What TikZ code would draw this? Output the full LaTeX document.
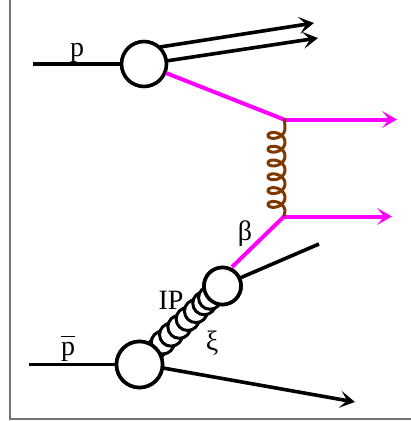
\documentclass[tikz,border=0pt]{standalone}
\usepackage{fontspec}
\setmainfont{Liberation Serif}
\usetikzlibrary{arrows.meta,calc}
\definecolor{mag}{RGB}{255,0,255}
\definecolor{glu}{RGB}{128,56,0}
\tikzset{
  blob/.style={circle,draw=black,fill=white,line width=3.6pt,inner sep=0pt},
  disc/.style={circle,draw=black,fill=white,line width=3pt,inner sep=0pt,minimum size=23pt},
  ring/.style={circle,draw=black,line width=2.4pt,inner sep=0pt,minimum size=20pt},
  line/.style={draw=black,line width=3.6pt},
  arr/.style={line,-{Stealth[length=15pt,width=17pt,inset=7pt,line width=1.6pt]}},
  mline/.style={draw=mag,line width=4pt},
  marr/.style={mline,-{Stealth[length=15pt,width=17pt,inset=7pt,line width=1.6pt]}},
  lab/.style={inner sep=0pt,anchor=base,font=\fontsize{28}{28}\selectfont},
}
\begin{document}
\begin{tikzpicture}[x=1pt,y=-1pt]
\useasboundingbox (0,0) rectangle (411,421);
\draw[draw=gray!90!black,line width=1.5pt] (10,0) -- (10,419) -- (411,419);
\coordinate (pin) at (33,64);
\coordinate (pbin) at (29,364.5);
\coordinate (o1) at (314,23);
\coordinate (o2) at (318,38);
\coordinate (v1) at (284,119.5);
\coordinate (v2) at (284,216.5);
\coordinate (q1) at (397,119.5);
\coordinate (q2) at (392,216.5);
\coordinate (rem) at (319,244);
\coordinate (pout) at (355,402);
\coordinate (oP1) at (160,47);
\coordinate (oP2) at (166,61);
\coordinate (oP3) at (166,73);
\coordinate (oI1) at (232,267);
\coordinate (oI2) at (240,278);
\coordinate (oB) at (163,368);
\node[blob,minimum size=45pt] (P) at (144,64) {};
\node[blob,minimum size=46pt] (B) at (139.5,364.5) {};
\node[blob,minimum size=37pt] (I) at (222.5,286) {};
\draw[line] (pin) -- (P);
\draw[line] (pbin) -- (B);
\draw[arr] (oP1) -- (o1);
\draw[arr] (oP2) -- (o2);
\draw[mline] (oP3) -- (v1);
\draw[marr] (v1) -- (q1);
\draw[marr] (v2) -- (q2);
\draw[mline] (oI1) -- (v2);
\draw[line] (oI2) -- (rem);
\draw[arr] (oB) -- (pout);
% gluon
\begin{scope}[shift={(v1)}]
\draw[glu,line width=3pt,line join=round,line cap=round]
  (0.5,0) -- plot[domain=0:2160,samples=240] ({-7.5+8.5*cos(\x)},{9+0.03833*\x+6*sin(\x)}) -- (0,96);
\end{scope}
% pomeron
\foreach \f in {0.19,0.23}
  \node[ring] at ($(B)!\f!(I)$) {};
\foreach \f in {0.28,0.38,0.48,0.58,0.68,0.78,0.85}
  \node[disc] at ($(B)!\f!(I)$) {};
\node[blob,minimum size=46pt] at (B) {};
\node[blob,minimum size=37pt] at (I) {};
% labels
\node[lab] (lp) at (77,56) {p};
\node[lab] (lb) at (68,355) {$\overline{\mbox{p}\rule{0pt}{17pt}}$};
\node[lab] (lbeta) at (245,240) {β};
\node[lab] (lip) at (171,309) {IP};
\node[lab] (lxi) at (212,350) {ξ};
\end{tikzpicture}
\end{document}
